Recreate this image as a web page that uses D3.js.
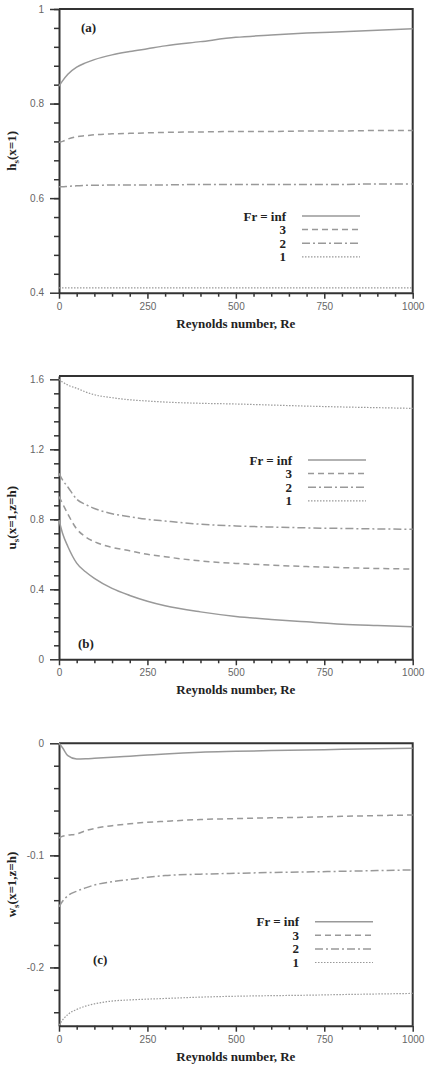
<!DOCTYPE html>
<html>
<head>
<meta charset="utf-8">
<script src="https://cdn.jsdelivr.net/npm/d3@7"></script>
<style>
  body { margin: 0; background: #fff; }
  .tick text { font-family: "Liberation Sans", Arial, sans-serif; font-size: 10px; fill: #666; }
  .bold { font-family: "Liberation Serif", "Times New Roman", serif; font-weight: bold; font-size: 13px; fill: #222; }
</style>
</head>
<body>
<div id="vis"></div>
<script>
// Reynolds numbers where the curves were read
let reynolds = [0, 10, 25, 50, 75, 100, 150, 200, 250, 300, 400, 500, 600, 700, 800, 900, 1000];
let xTicks = [0, 250, 500, 750, 1000];
let frLabels = ["Fr = inf", "3", "2", "1"];

// panel (a): h_s(x=1)
let hInf = [0.837, 0.848, 0.862, 0.877, 0.886, 0.893, 0.903, 0.910, 0.916, 0.922, 0.931, 0.940, 0.945, 0.949, 0.952, 0.955, 0.958];
let hFr3 = [0.718, 0.720, 0.725, 0.730, 0.732, 0.734, 0.736, 0.737, 0.738, 0.739, 0.740, 0.741, 0.741, 0.742, 0.742, 0.743, 0.743];
let hFr2 = [0.624, 0.624, 0.625, 0.626, 0.627, 0.627, 0.628, 0.628, 0.628, 0.628, 0.629, 0.629, 0.629, 0.629, 0.629, 0.630, 0.630];
let hFr1 = [0.410, 0.410, 0.410, 0.410, 0.410, 0.410, 0.410, 0.410, 0.410, 0.410, 0.410, 0.410, 0.410, 0.410, 0.410, 0.410, 0.410];
let hTicks = [0.4, 0.6, 0.8, 1];
let hTickLabels = ["0.4", "0.6", "0.8", "1"];

// panel (b): u_s(x=1,z=h)
let uInf = [0.796, 0.720, 0.645, 0.550, 0.500, 0.462, 0.405, 0.365, 0.332, 0.306, 0.271, 0.245, 0.228, 0.214, 0.201, 0.193, 0.186];
let uFr3 = [0.930, 0.890, 0.830, 0.745, 0.700, 0.672, 0.640, 0.620, 0.600, 0.586, 0.562, 0.548, 0.538, 0.530, 0.524, 0.519, 0.516];
let uFr2 = [1.063, 1.025, 0.985, 0.915, 0.885, 0.862, 0.832, 0.815, 0.800, 0.790, 0.772, 0.762, 0.756, 0.751, 0.748, 0.745, 0.743];
let uFr1 = [1.600, 1.585, 1.567, 1.549, 1.528, 1.512, 1.495, 1.483, 1.476, 1.470, 1.463, 1.459, 1.453, 1.447, 1.442, 1.438, 1.434];
let uTicks = [0, 0.4, 0.8, 1.2, 1.6];
let uTickLabels = ["0", "0.4", "0.8", "1.2", "1.6"];

// panel (c): w_s(x=1,z=h)
let wInf = [0, -0.004, -0.011, -0.014, -0.0138, -0.0134, -0.0125, -0.0115, -0.0105, -0.0095, -0.008, -0.0072, -0.0065, -0.006, -0.0053, -0.0048, -0.0045];
let wFr3 = [-0.0845, -0.083, -0.082, -0.081, -0.078, -0.076, -0.0735, -0.0718, -0.0705, -0.0696, -0.068, -0.0672, -0.0665, -0.066, -0.0652, -0.0645, -0.064];
let wFr2 = [-0.146, -0.141, -0.136, -0.132, -0.129, -0.1265, -0.1235, -0.1215, -0.1195, -0.118, -0.1168, -0.116, -0.1153, -0.1148, -0.1142, -0.1136, -0.113];
let wFr1 = [-0.2515, -0.247, -0.242, -0.2375, -0.2345, -0.2325, -0.230, -0.229, -0.2283, -0.2277, -0.2265, -0.2257, -0.2252, -0.2248, -0.2242, -0.2237, -0.2232];
let wTicks = [-0.2, -0.1, 0];
let wTickLabels = ["-0.2", "-0.1", "0"];

let width = 426, height = 1067;
let left = 59, right = 412.7;

let svg = d3.select('#vis').append('svg')
    .attr('width', width)
    .attr('height', height);

let dashes = ["none", "6,4", "8,3,2,3", "1.5,1.5"];

let xScale = d3.scaleLinear().domain([0, 1000]).range([left, right]);

function drawPanel(p) {
  let yScale = d3.scaleLinear().domain(p.domain).range([p.bottom, p.top]);
  let g = svg.append('g');

  // minor ticks
  let xMinor = d3.range(0, 1001, 50).filter(v => v % 250 != 0);
  g.append('g')
      .attr('transform', `translate(0,${p.bottom})`)
      .call(d3.axisBottom(xScale).tickValues(xMinor).tickFormat('').tickSize(4).tickSizeOuter(0))
      .call(a => a.select('.domain').remove());
  g.append('g')
      .attr('transform', `translate(${left},0)`)
      .call(d3.axisLeft(yScale).tickValues(p.minor).tickFormat('').tickSize(5).tickSizeOuter(0))
      .call(a => a.select('.domain').remove());

  // major axes
  g.append('g')
      .attr('transform', `translate(0,${p.bottom})`)
      .call(d3.axisBottom(xScale).tickValues(xTicks).tickFormat(d3.format('d'))
        .tickSize(6).tickSizeOuter(0).tickPadding(4));
  g.append('g')
      .attr('transform', `translate(${left},0)`)
      .call(d3.axisLeft(yScale).tickValues(p.ticks)
        .tickFormat((d, i) => p.tickLabels[i]).tickSize(9).tickSizeOuter(0).tickPadding(6));
  g.selectAll('.domain').attr('stroke', '#333').attr('stroke-width', 2);
  g.selectAll('.tick line').attr('stroke', '#333').attr('stroke-width', 1.5);

  // frame top and right
  g.append('path')
      .attr('d', `M${left},${yScale(p.domain[1])}H${right}V${p.bottom}`)
      .attr('fill', 'none')
      .attr('stroke', '#333')
      .attr('stroke-width', 2);

  // curves
  let line = d3.line()
      .x((d, i) => xScale(reynolds[i]))
      .y(d => yScale(d))
      .curve(d3.curveMonotoneX);

  p.series.forEach((s, k) => {
    g.append('path')
        .datum(s)
        .attr('d', line)
        .attr('fill', 'none')
        .attr('stroke', '#999')
        .attr('stroke-width', k == 3 ? 1.2 : 1.5)
        .attr('stroke-dasharray', dashes[k]);
  });

  // legend
  frLabels.forEach((lab, k) => {
    let ly = p.legendY + k * 13.6;
    g.append('text')
        .attr('class', 'bold')
        .attr('x', p.legendX)
        .attr('y', ly + 4.5)
        .attr('text-anchor', 'end')
        .text(lab);
    g.append('line')
        .attr('x1', p.legendX + 16)
        .attr('x2', p.legendX + 74)
        .attr('y1', ly)
        .attr('y2', ly)
        .attr('stroke', '#999')
        .attr('stroke-width', k == 3 ? 1.2 : 1.5)
        .attr('stroke-dasharray', dashes[k]);
  });

  // panel tag
  g.append('text')
      .attr('class', 'bold')
      .attr('x', p.tagX)
      .attr('y', p.tagY)
      .text(p.tag);

  // x axis title
  g.append('text')
      .attr('class', 'bold')
      .attr('x', (left + right) / 2)
      .attr('y', p.bottom + 35)
      .attr('text-anchor', 'middle')
      .text('Reynolds number, Re');

  // y axis title
  let yt = g.append('text')
      .attr('class', 'bold')
      .attr('transform', `translate(16,${(p.top + p.bottom) / 2}) rotate(-90)`)
      .attr('text-anchor', 'middle');
  yt.append('tspan').text(p.yName);
  yt.append('tspan').attr('font-size', '9px').attr('dy', 3).text('s');
  yt.append('tspan').attr('dy', -3).text(p.yArgs);
}

drawPanel({
  top: 9, bottom: 292.7, domain: [0.4, 1],
  ticks: hTicks, tickLabels: hTickLabels, minor: d3.range(0.44, 1, 0.04),
  series: [hInf, hFr3, hFr2, hFr1],
  legendX: 286, legendY: 216,
  tag: '(a)', tagX: 81, tagY: 32,
  yName: 'h', yArgs: '(x=1)'
});

drawPanel({
  top: 376, bottom: 659.3, domain: [0, 1.619],
  ticks: uTicks, tickLabels: uTickLabels, minor: d3.range(0.08, 1.6, 0.08),
  series: [uInf, uFr3, uFr2, uFr1],
  legendX: 292, legendY: 460,
  tag: '(b)', tagX: 78, tagY: 648,
  yName: 'u', yArgs: '(x=1,z=h)'
});

drawPanel({
  top: 743.3, bottom: 1025.7, domain: [-0.252, 0],
  ticks: wTicks, tickLabels: wTickLabels, minor: d3.range(-0.24, 0, 0.02),
  series: [wInf, wFr3, wFr2, wFr1],
  legendX: 299, legendY: 921.7,
  tag: '(c)', tagX: 93, tagY: 964,
  yName: 'w', yArgs: '(x=1,z=h)'
});
</script>
</body>
</html>
